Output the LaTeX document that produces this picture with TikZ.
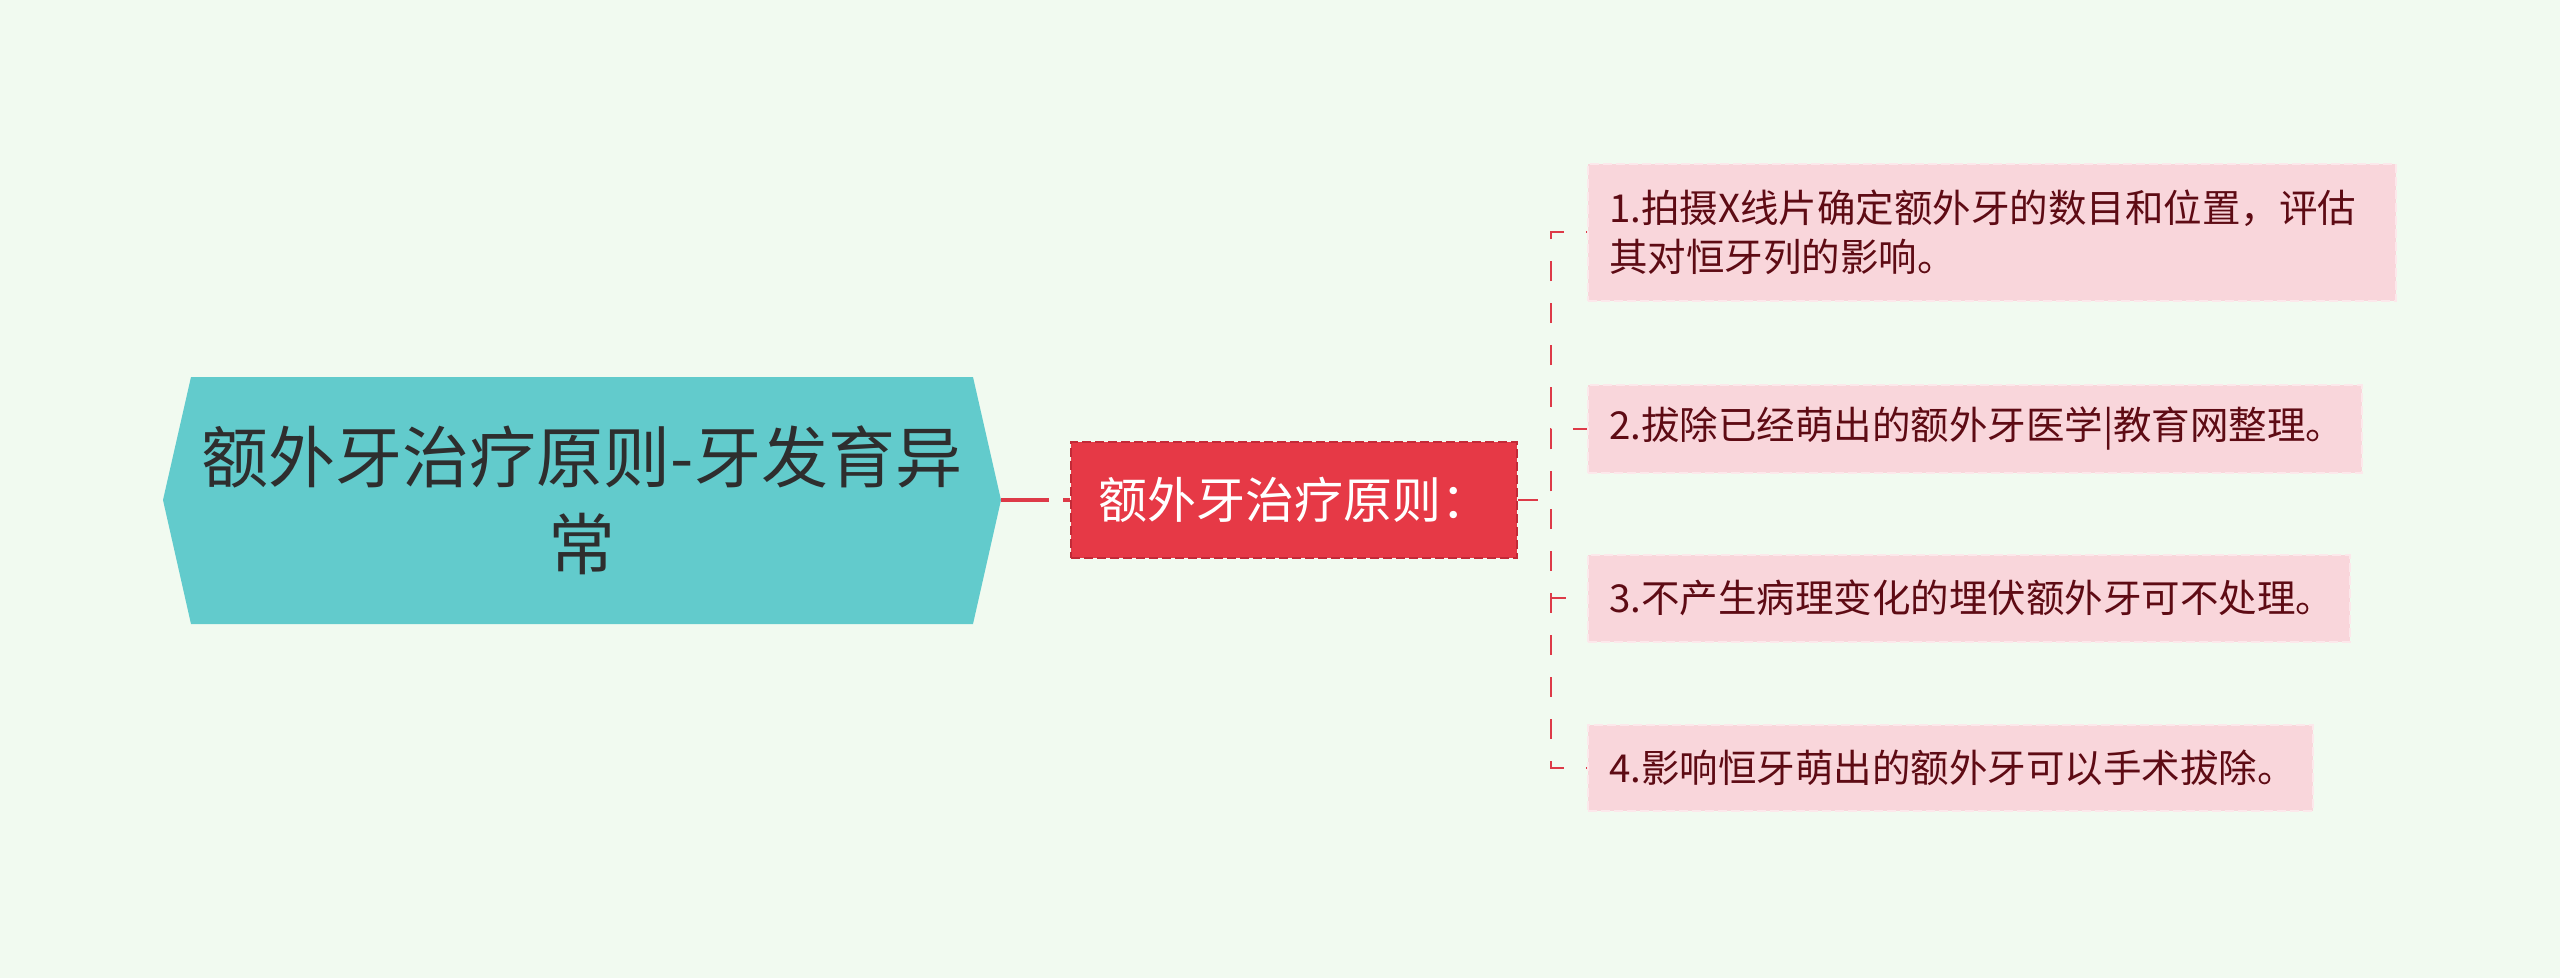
\documentclass[tikz,border=0pt]{standalone}
\usepackage{fontspec}
\newfontfamily\cjk{Noto Sans CJK SC}
\definecolor{bgc}{HTML}{F1FAF0}
\definecolor{rootfill}{HTML}{62CBCC}
\definecolor{roottext}{HTML}{2E2E2E}
\definecolor{midfill}{HTML}{E63946}
\definecolor{midborder}{HTML}{C22A37}
\definecolor{leaffill}{HTML}{F9D6DB}
\definecolor{leafborder}{HTML}{FCE8EB}
\definecolor{leaftext}{HTML}{5E0B14}
\definecolor{connc}{HTML}{DD3A48}
\begin{document}
\begin{tikzpicture}[x=1pt,y=-1pt,
  rootnode/.style={align=center, minimum width=838pt, minimum height=247pt, inner sep=0pt,
    text=roottext, font=\cjk\fontsize{67}{87}\selectfont},
  midbox/.style={fill=midfill, draw=midborder, line width=2pt, dash pattern=on 9pt off 4pt,
    minimum width=446pt, minimum height=116pt, inner sep=0pt, text=white,
    font=\cjk\fontsize{49}{58}\selectfont},
  leafbox/.style={fill=leaffill, draw=leafborder, line width=2pt, dash pattern=on 9pt off 4pt,
    inner xsep=21pt, inner ysep=0pt, align=left, text=leaftext, anchor=west,
    font=\cjk\fontsize{38.5}{49}\selectfont},
  rootconn/.style={draw=connc, line width=4.5pt, dash pattern=on 48pt off 14pt},
  conn/.style={draw=connc, line width=2.5pt, dash pattern=on 20pt off 22pt}]
\useasboundingbox (0,0) rectangle (2560,978);
\fill[bgc] (0,0) rectangle (2560,978);
% root hexagon
\fill[rootfill] (163,500) -- (191,377) -- (973,377) -- (1001,500) -- (973,624) -- (191,624) -- cycle;
\node[rootnode] (root) at (582,500) {额外牙治疗原则-牙发育异\\常};
\node[midbox] (mid) at (1294,500) {额外牙治疗原则：};
\node[leafbox, text width=766pt, minimum height=137pt] (l1) at (1587,232) {1.拍摄X线片确定额外牙的数目和位置，评估\\其对恒牙列的影响。};
\node[leafbox, text width=732pt, minimum height=88pt] (l2) at (1587,429) {2.拔除已经萌出的额外牙医学|教育网整理。};
\node[leafbox, text width=720pt, minimum height=87pt] (l3) at (1587,598) {3.不产生病理变化的埋伏额外牙可不处理。};
\node[leafbox, text width=683pt, minimum height=86pt] (l4) at (1587,768) {4.影响恒牙萌出的额外牙可以手术拔除。};
\coordinate (bus) at (1551,500);
\draw[rootconn] (root.east) -- (mid.west);
\foreach \l in {l1,l2,l3,l4}{
  \draw[conn] (mid.east) -- (bus) |- (\l.west);
}
\end{tikzpicture}
\end{document}
